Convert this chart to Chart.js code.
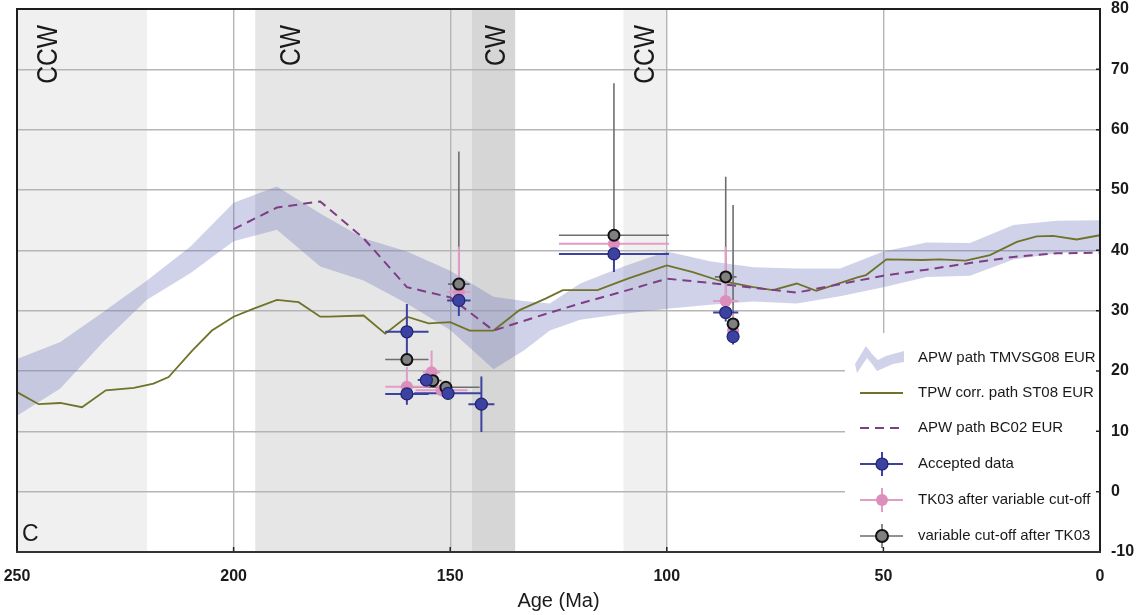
<!DOCTYPE html>
<html><head><meta charset="utf-8">
<script src="https://cdn.jsdelivr.net/npm/chart.js@4.4.1/dist/chart.umd.min.js"></script>
<style>html,body{margin:0;padding:0;background:#fff;}#wrap{width:1141px;height:615px;}</style>
</head><body><div id="wrap"><canvas id="c" width="1141" height="615"></canvas></div>
<script>
// ---- Data ----
const bandAges  = [250,240,230,220,210,200,190,180,170,160,150,140,133,127,120,110,100,90,80,70,60,50,40,30,20,10,0];
const bandUpper = [22.0,24.8,29.8,35.0,40.6,47.9,50.6,46.1,42.0,39.8,36.6,32.3,31.6,31.2,34.5,37.3,39.8,38.2,37.2,37.0,37.0,39.8,41.3,41.2,44.2,44.9,45.0];
const bandLower = [12.6,17.1,24.9,31.8,36.2,41.5,43.4,37.3,35.0,31.2,26.8,20.3,23.4,26.7,28.5,29.5,30.3,31.0,31.5,31.2,32.4,33.9,35.6,35.8,38.5,39.5,39.9];

const tpwAges = [250,245,240,235,229.5,223,218.5,215,209.5,205,200,195.5,190,185,180,178,170,165,160,155,150,145.5,140,134,128,124,116,109,100,94,88,80,75.5,70,65.5,56,54,49.3,41,37,31,25.4,19.2,14.6,10.8,5.4,0];
const tpwVals = [16.5,14.5,14.7,14.0,16.8,17.2,17.9,19.0,23.4,26.7,29.0,30.3,31.8,31.4,29.0,29.0,29.2,26.2,29.0,27.9,28.1,26.7,26.7,30.1,32.0,33.4,33.4,35.3,37.5,36.4,35.0,33.9,33.4,34.5,33.3,35.5,35.9,38.5,38.4,38.5,38.3,39.2,41.4,42.3,42.4,41.8,42.5];

const bcAges = [200,190,180,170,160,150,140,130,120,110,100,90,80,70,60,50,40,30,20,10,0];
const bcVals = [43.5,47.1,48.1,42.0,33.9,32.2,26.7,29.0,31.2,33.2,35.3,34.6,33.8,33.0,34.4,35.8,36.8,37.9,38.9,39.5,39.6];

const accAges    = [160,160,155.5,150.5,142.8,148,112.2,86.4,84.7];
const accVals    = [26.5,16.2,18.5,16.3,14.5,31.7,39.4,29.7,25.7];
const accAgeErr  = [5,5,2,7.8,3,2.7,12.7,2.9,1];
const accErrUp   = [4.6,1.8,1,1,4.6,2.5,3,1.5,1.3];
const accErrDown = [4.2,1.8,1,1,4.6,2.6,3,1.5,1.3];

const tkAges    = [160,154.3,152,148,112.2,86.4,84.7];
const tkVals    = [17.4,19.8,16.8,33.1,41.1,31.6,26.7];
const tkAgeErr  = [5,2,6,2.7,12.7,2.9,1];
const tkErrUp   = [3.3,3.6,1,7.5,1.5,9,3];
const tkErrDown = [1,2.5,1,2,2,1.5,1];

const grAges    = [160,154,151,148,112.2,86.4,84.7];
const grVals    = [21.9,18.4,17.3,34.4,42.5,35.6,27.8];
const grAgeErr  = [5,2,7.8,2.5,12.7,2.5,1];
const grErrUp   = [1,1,1,22,25.2,16.6,19.7];
const grErrDown = [1,1,1,3,3,3,1];

const xTicks = [250,200,150,100,50,0];
const yTicks = [-10,0,10,20,30,40,50,60,70,80];

const shadeStart  = [250,195,145,110];
const shadeEnd    = [220,145,135,100];
const shadeLabels = ['CCW','CW','CW','CCW'];
const shadeLabelAges = [242.5,186.6,139.3,104.7];

const legendLabels = ['APW path TMVSG08 EUR','TPW corr. path ST08 EUR','APW path BC02 EUR','Accepted data','TK03 after variable cut-off','variable cut-off after TK03'];
// ---- Styles ----
const FONT = '"Liberation Sans", Arial, Helvetica, sans-serif';
const shadeColors = ['#f0f0f0','#e6e6e6','#d6d6d6','#f0f0f0'];
const BAND = 'rgba(110,115,190,0.32)';
const TPW = '#6f7329';
const BC = '#7e3d84';
const BLUE = '#3c42a2', BLUE_LINE = '#3d42a0', BLUE_EDGE = '#20236e';
const PINK = '#dc8fbd', PINK_LINE = '#e39cc6';
const GREY = '#808080', GREY_LINE = '#6e6e6e', GREY_EDGE = '#111';

const pts = (xs, ys) => xs.map((a,i)=>({x:a, y:ys[i]}));

const series = [
  {ages:grAges, vals:grVals, xe:grAgeErr, up:grErrUp, dn:grErrDown, color:GREY_LINE, w:1.6},
  {ages:tkAges, vals:tkVals, xe:tkAgeErr, up:tkErrUp, dn:tkErrDown, color:PINK_LINE, w:2},
  {ages:accAges, vals:accVals, xe:accAgeErr, up:accErrUp, dn:accErrDown, color:BLUE_LINE, w:2}
];

const bgPlugin = {
  id:'bg',
  beforeDraw(chart){
    const {ctx, chartArea:a} = chart; const x = chart.scales.x;
    ctx.save();
    ctx.fillStyle='#fff'; ctx.fillRect(0,0,chart.width,chart.height);
    shadeStart.forEach((s,i)=>{
      const x1=x.getPixelForValue(s), x2=x.getPixelForValue(shadeEnd[i]);
      ctx.fillStyle=shadeColors[i];
      ctx.fillRect(Math.min(x1,x2), a.top, Math.abs(x2-x1), a.bottom-a.top);
    });
    ctx.restore();
  },
  beforeDatasetDraw(chart, args){
    if (chart.data.datasets[args.index].id !== 'pink') return;
    const {ctx} = chart; const x=chart.scales.x, y=chart.scales.y;
    ctx.save();
    series.forEach(s=>{
      ctx.strokeStyle=s.color; ctx.lineWidth=s.w;
      s.ages.forEach((a,i)=>{
        const px=x.getPixelForValue(a), py=y.getPixelForValue(s.vals[i]);
        ctx.beginPath();
        ctx.moveTo(x.getPixelForValue(a+s.xe[i]), py);
        ctx.lineTo(x.getPixelForValue(a-s.xe[i]), py);
        ctx.moveTo(px, y.getPixelForValue(s.vals[i]+s.up[i]));
        ctx.lineTo(px, y.getPixelForValue(s.vals[i]-s.dn[i]));
        ctx.stroke();
      });
    });
    ctx.restore();
  },
  afterDatasetsDraw(chart){
    const {ctx, chartArea:a} = chart; const x=chart.scales.x, y=chart.scales.y;
    ctx.save();
    // rotated labels
    ctx.fillStyle='#1a1a1a';
    shadeLabels.forEach((t,i)=>{
      ctx.save();
      ctx.translate(x.getPixelForValue(shadeLabelAges[i]), a.top+16);
      ctx.rotate(-Math.PI/2);
      ctx.scale(0.85,1);
      ctx.font='29px '+FONT; ctx.textAlign='right'; ctx.textBaseline='middle';
      ctx.fillText(t,0,0);
      ctx.restore();
    });
    // panel letter
    ctx.font='23px '+FONT; ctx.textAlign='left'; ctx.textBaseline='alphabetic';
    ctx.fillText('C', a.left+5, a.bottom-11);
    // legend box
    const lx=845, ly=333;
    ctx.fillStyle='#fff';
    ctx.fillRect(lx, ly, a.right-1-lx, a.bottom-ly);
    const rows=[358,393,428,464,500,536];
    const sx1=860, sx2=903, cx=882;
    // APW squiggle
    ctx.fillStyle=BAND;
    ctx.beginPath();
    ctx.moveTo(855,364); ctx.lineTo(866,346); ctx.lineTo(872,354); ctx.lineTo(878,360);
    ctx.lineTo(886,356); ctx.lineTo(893,354); ctx.lineTo(904,351);
    ctx.lineTo(904,362); ctx.lineTo(893,364); ctx.lineTo(886,367); ctx.lineTo(877,371);
    ctx.lineTo(872,364); ctx.lineTo(867,358); ctx.lineTo(857,373);
    ctx.closePath(); ctx.fill();
    // TPW
    ctx.strokeStyle=TPW; ctx.lineWidth=2;
    ctx.beginPath(); ctx.moveTo(sx1,rows[1]); ctx.lineTo(sx2,rows[1]); ctx.stroke();
    // BC02
    ctx.strokeStyle=BC; ctx.setLineDash([9,6]);
    ctx.beginPath(); ctx.moveTo(sx1,rows[2]); ctx.lineTo(sx2,rows[2]); ctx.stroke();
    ctx.setLineDash([]);
    const sym=(yy,line,fill,edge,ew,lw)=>{
      ctx.strokeStyle=line; ctx.lineWidth=lw;
      ctx.beginPath(); ctx.moveTo(sx1,yy); ctx.lineTo(sx2,yy); ctx.moveTo(cx,yy-12); ctx.lineTo(cx,yy+12); ctx.stroke();
      ctx.beginPath(); ctx.arc(cx,yy,6,0,Math.PI*2); ctx.fillStyle=fill; ctx.fill();
      if(ew>0){ctx.strokeStyle=edge; ctx.lineWidth=ew; ctx.stroke();}
    };
    sym(rows[3],BLUE_LINE,BLUE,BLUE_EDGE,1.2,2);
    sym(rows[4],PINK_LINE,PINK,PINK,0,2);
    sym(rows[5],GREY_LINE,GREY,GREY_EDGE,2,1.6);
    ctx.fillStyle='#1a1a1a'; ctx.font='15px '+FONT; ctx.textAlign='left'; ctx.textBaseline='middle';
    legendLabels.forEach((t,i)=>ctx.fillText(t, 918, rows[i]));
    // inner ticks
    ctx.strokeStyle='#222'; ctx.lineWidth=1.5;
    ctx.beginPath();
    yTicks.forEach(v=>{const py=y.getPixelForValue(v); ctx.moveTo(a.right-4,py); ctx.lineTo(a.right,py);});
    xTicks.forEach(v=>{const px=x.getPixelForValue(v); ctx.moveTo(px,a.bottom-5); ctx.lineTo(px,a.bottom);});
    ctx.stroke();
    // frame
    ctx.lineWidth=2;
    ctx.strokeStyle='#1e1e1e';
    ctx.beginPath();
    ctx.moveTo(a.left,a.bottom); ctx.lineTo(a.left,a.top); ctx.lineTo(a.right,a.top); ctx.lineTo(a.right,a.bottom);
    ctx.stroke();
    ctx.strokeStyle='#333';
    ctx.beginPath(); ctx.moveTo(a.left-1,a.bottom); ctx.lineTo(a.right+1,a.bottom); ctx.stroke();
    ctx.restore();
  }
};

const zeroPad = s => { s.paddingLeft=0; s.paddingRight=0; s.paddingTop=0; s.paddingBottom=0; };

const chart = new Chart(document.getElementById('c'), {
  type:'scatter',
  data:{datasets:[
    {id:'blue', type:'scatter', data:pts(accAges,accVals), backgroundColor:BLUE, borderColor:BLUE_EDGE, borderWidth:1.2, pointRadius:6, order:1},
    {id:'grey', type:'scatter', data:pts(grAges,grVals), backgroundColor:GREY, borderColor:GREY_EDGE, borderWidth:2, pointRadius:5.5, order:2},
    {id:'pink', type:'scatter', data:pts(tkAges,tkVals), backgroundColor:PINK, borderColor:PINK, borderWidth:0, pointRadius:6, order:3},
    {id:'bc', type:'line', data:pts(bcAges,bcVals), borderColor:BC, borderWidth:2, borderDash:[9,6], pointRadius:0, fill:false, tension:0, order:7},
    {id:'tpw', type:'line', data:pts(tpwAges,tpwVals), borderColor:TPW, borderWidth:1.8, pointRadius:0, fill:false, tension:0, order:8},
    {id:'bandU', type:'line', data:pts(bandAges,bandUpper), borderWidth:0, borderColor:'rgba(0,0,0,0)', pointRadius:0, fill:false, order:10},
    {id:'bandL', type:'line', data:pts(bandAges,bandLower), borderWidth:0, borderColor:'rgba(0,0,0,0)', backgroundColor:BAND, pointRadius:0, fill:'-1', order:10}
  ]},
  options:{
    responsive:false, devicePixelRatio:1, animation:false,
    layout:{padding:{left:17, top:9, right:0, bottom:0}},
    plugins:{legend:{display:false}, tooltip:{enabled:false}},
    scales:{
      x:{type:'linear', reverse:true, min:0, max:250,
        afterBuildTicks:s=>{s.ticks=xTicks.map(v=>({value:v}));},
        ticks:{font:{family:FONT,size:16,weight:'bold'}, color:'#1a1a1a', padding:15, maxRotation:0},
        grid:{color:'#b5b5b5', lineWidth:1.4, drawTicks:false},
        border:{display:false},
        title:{display:true, text:'Age (Ma)', font:{family:FONT,size:20}, color:'#1a1a1a', padding:{top:0,bottom:2}},
        afterFit:s=>{s.height=63; zeroPad(s);}
      },
      y:{type:'linear', position:'right', min:-10, max:80,
        afterBuildTicks:s=>{s.ticks=yTicks.map(v=>({value:v}));},
        ticks:{font:{family:FONT,size:16,weight:'bold'}, color:'#1a1a1a', padding:11},
        grid:{color:'#b5b5b5', lineWidth:1.4, drawTicks:false},
        border:{display:false},
        afterFit:s=>{s.width=41; zeroPad(s);}
      }
    }
  },
  plugins:[bgPlugin]
});
</script></body></html>
